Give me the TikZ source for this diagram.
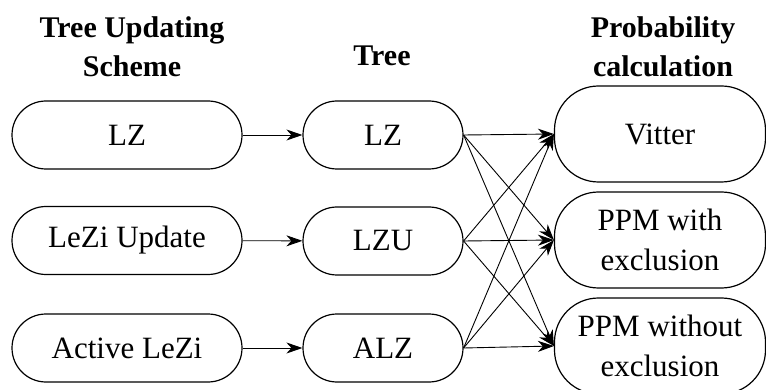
\documentclass[tikz,border=0pt]{standalone}
\usepackage{fontspec}
\setmainfont{Liberation Serif}
\usetikzlibrary{arrows.meta}
\begin{document}
\begin{tikzpicture}[x=1pt,y=-1pt,
  box/.style={draw,line width=1.2pt,align=center,inner sep=0pt,
    font=\fontsize{31}{40}\selectfont},
  leftbox/.style={box,minimum width=230pt,minimum height=68pt,rounded corners=34pt},
  midbox/.style={box,minimum width=160pt,minimum height=68pt,rounded corners=34pt},
  rightbox/.style={box,minimum width=211pt,minimum height=96pt,rounded corners=44pt},
  head/.style={align=center,inner sep=0pt,font=\bfseries\fontsize{30}{39}\selectfont},
  arr/.style={line width=0.9pt,-{Stealth[length=16pt,width=11pt,inset=5pt]}}]
\clip (0,0) rectangle (766,390);
\fill[white] (0,0) rectangle (766,390);
\node[head] (h1) at (132,47) {Tree Updating\\Scheme};
\node[head] (h2) at (382,56) {Tree};
\node[head] (h3) at (663,47) {Probability\\calculation};
\node[leftbox] (l1) at (127,135) {LZ};
\node[leftbox] (l2) at (127,240.5) {LeZi Update};
\node[leftbox] (l3) at (127,348) {Active LeZi};
\node[midbox] (m1) at (383,135) {LZ};
\node[midbox] (m2) at (383,241) {LZU};
\node[midbox] (m3) at (383,348) {ALZ};
\node[rightbox] (r1) at (660,134) {Vitter};
\node[rightbox] (r2) at (660,240) {PPM with\\exclusion};
\node[rightbox] (r3) at (660,346) {PPM without\\exclusion};
\draw[arr] (l1) -- (m1);
\draw[arr] (l2) -- (m2);
\draw[arr] (l3) -- (m3);
\foreach \a in {1,2,3}{
  \foreach \b in {1,2,3}{
    \draw[arr] (m\a.east) -- (r\b.west);
  }
}
\end{tikzpicture}
\end{document}
